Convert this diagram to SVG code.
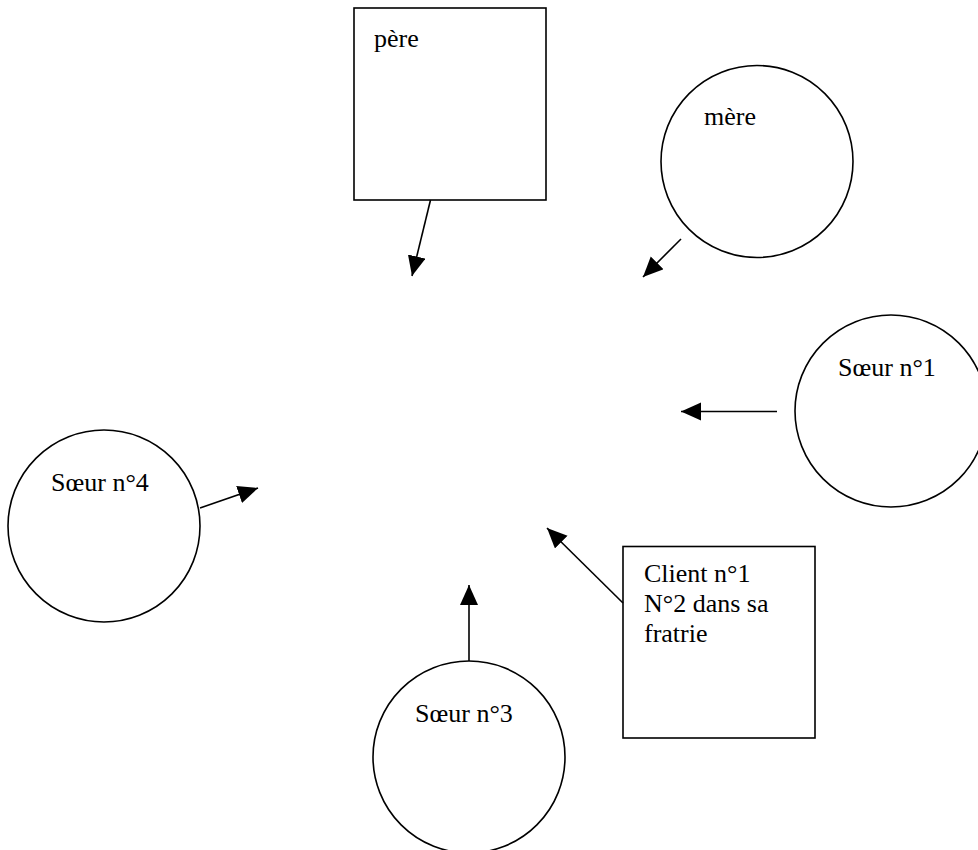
<svg xmlns="http://www.w3.org/2000/svg" width="978" height="850" viewBox="0 0 978 850">
<style>
.shape{fill:#fff;stroke:#000;stroke-width:1.6}
.lbl{font-family:"Liberation Serif","Times New Roman",serif;font-size:26px;fill:#000}
.conn{stroke:#000;stroke-width:1.6;fill:none}
</style>
<defs>
<marker id="ah" markerUnits="userSpaceOnUse" markerWidth="22" markerHeight="20" refX="20" refY="9" orient="auto">
<path d="M0,0 L20,9 L0,18 z" fill="#000"/>
</marker>
</defs>
<rect width="978" height="850" fill="#fff"/>
<g id="pere">
<rect class="shape" x="354" y="8" width="192" height="192"/>
<text class="lbl" x="374" y="47">père</text>
</g>
<g id="mere">
<circle class="shape" cx="757" cy="161.5" r="96"/>
<text class="lbl" x="704" y="125">mère</text>
</g>
<g id="soeur1">
<circle class="shape" cx="891" cy="411" r="96"/>
<text class="lbl" x="838" y="376">Sœur n°1</text>
</g>
<g id="soeur4">
<circle class="shape" cx="104" cy="526" r="96"/>
<text class="lbl" x="51" y="491">Sœur n°4</text>
</g>
<g id="soeur3">
<circle class="shape" cx="469" cy="757" r="96"/>
<text class="lbl" x="415" y="722">Sœur n°3</text>
</g>
<g id="client">
<rect class="shape" x="623" y="546.5" width="192" height="191.5"/>
<text class="lbl" x="644" y="582">Client n°1</text>
<text class="lbl" x="644" y="612">N°2 dans sa</text>
<text class="lbl" x="644" y="642">fratrie</text>
</g>
<g id="connectors">
<line class="conn" x1="430.5" y1="200" x2="412" y2="276" marker-end="url(#ah)"/>
<line class="conn" x1="681" y1="239" x2="643" y2="277" marker-end="url(#ah)"/>
<line class="conn" x1="777" y1="411.5" x2="681" y2="411.5" marker-end="url(#ah)"/>
<line class="conn" x1="200" y1="508" x2="258" y2="488" marker-end="url(#ah)"/>
<line class="conn" x1="469" y1="661" x2="469" y2="585" marker-end="url(#ah)"/>
<line class="conn" x1="623" y1="603" x2="547" y2="528" marker-end="url(#ah)"/>
</g>
</svg>
